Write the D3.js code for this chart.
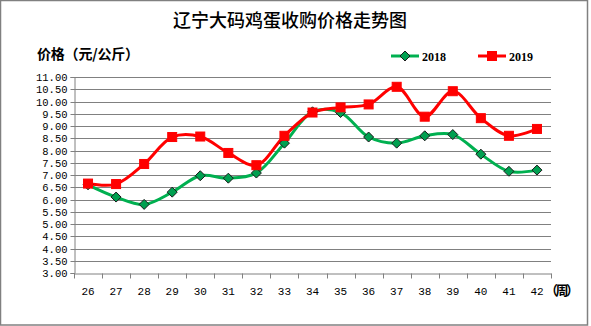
<!DOCTYPE html>
<html><head><meta charset="utf-8">
<script src="https://cdn.jsdelivr.net/npm/d3@7"></script>
<style>body{margin:0;background:#fff}svg{display:block}</style>
</head><body><svg id="c" width="591" height="326"></svg>
<script>
const weeks = ["26","27","28","29","30","31","32","33","34","35","36","37","38","39","40","41","42"];
const s2018 = [6.6,6.1,5.8,6.3,6.97,6.87,7.08,8.3,9.58,9.55,8.55,8.3,8.6,8.65,7.85,7.15,7.2];
const s2019 = [6.65,6.63,7.45,8.55,8.57,7.9,7.4,8.6,9.55,9.76,9.88,10.6,9.38,10.42,9.32,8.6,8.88];
const yTicks = [3,3.5,4,4.5,5,5.5,6,6.5,7,7.5,8,8.5,9,9.5,10,10.5,11];
const title = "辽宁大码鸡蛋收购价格走势图";
const yTitle = "价格（元/公斤）";
const xTitle = "（周）";
const seriesNames = ["2018","2019"];

const svg = d3.select("#c");
const L=74,R=551,T=77,B=273;
const x = d3.scaleBand().domain(weeks).range([L,R]);
const y = d3.scaleLinear().domain([3,11]).range([B,T]);
const grey="#808080";

svg.append("rect").attr("x",0.5).attr("y",0.5).attr("width",587).attr("height",324.5)
  .attr("fill","#fff").attr("stroke",grey).attr("stroke-width",1.5);

svg.append("text").attr("x",290).attr("y",27).attr("text-anchor","middle")
  .attr("font-family","Noto Sans CJK SC").attr("font-weight",500).attr("font-size",18).text(title);
svg.append("text").attr("x",37).attr("y",59).attr("textLength",102).attr("lengthAdjust","spacing")
  .attr("font-family","Noto Sans CJK SC").attr("font-weight",700).attr("font-size",14).text(yTitle);
svg.append("text").attr("x",545).attr("y",295).attr("textLength",34).attr("lengthAdjust","spacing")
  .attr("font-family","Noto Sans CJK SC").attr("font-weight",700).attr("font-size",13).text(xTitle);

// grid
svg.append("g").selectAll("line").data(yTicks.filter(d=>d>3)).join("line")
  .attr("x1",L).attr("x2",R).attr("y1",d=>Math.round(y(d))+0.5).attr("y2",d=>Math.round(y(d))+0.5)
  .attr("stroke",grey).attr("stroke-width",1);

// y axis
const ya = svg.append("g").attr("transform",`translate(${L+0.5},0)`)
  .call(d3.axisLeft(y).tickValues(yTicks).tickFormat(d3.format(".2f")).tickSize(4).tickPadding(3));
ya.select(".domain").attr("stroke",grey);
ya.selectAll(".tick line").attr("stroke",grey);
ya.selectAll(".tick text").attr("font-family","Liberation Mono").attr("font-size",10.5).attr("fill","#000");
ya.selectAll(".tick").attr("transform",d=>`translate(0,${Math.round(y(d))+0.5})`);

// x axis
const xa = svg.append("g").attr("transform",`translate(0,${B+0.5})`)
  .call(d3.axisBottom(x).tickSize(0).tickPadding(14));
xa.select(".domain").attr("stroke",grey);
xa.selectAll(".tick text").attr("font-family","Liberation Mono").attr("font-size",11).attr("fill","#000");
xa.selectAll("line.b").data(d3.range(weeks.length+1)).join("line").attr("class","b")
  .attr("x1",i=>Math.round(L+i*x.step())+0.5).attr("x2",i=>Math.round(L+i*x.step())+0.5)
  .attr("y1",0).attr("y2",5).attr("stroke",grey);

const cx = w => x(w)+x.bandwidth()/2;
const line = d3.line().curve(d3.curveCatmullRom.alpha(0.5));
const green="#00b050", red="#ff0000";

function drawSeries(vals,color){
  svg.append("path").attr("d",line(vals.map((v,i)=>[cx(weeks[i]),y(v)])))
    .attr("fill","none").attr("stroke",color).attr("stroke-width",3);
}
drawSeries(s2018,green);
drawSeries(s2019,red);

function diamond(g,px,py){
  g.append("path").attr("d",`M${px},${py-5}L${px+5},${py}L${px},${py+5}L${px-5},${py}Z`)
   .attr("fill","#00a050").attr("stroke","#1a1a1a").attr("stroke-width",1);
}
function square(g,px,py){
  g.append("rect").attr("x",px-4.5).attr("y",py-4.5).attr("width",9).attr("height",9)
   .attr("fill",red).attr("stroke",red).attr("stroke-width",1);
}
const mk = svg.append("g");
s2018.forEach((v,i)=>diamond(mk,cx(weeks[i]),y(v)));
s2019.forEach((v,i)=>square(mk,cx(weeks[i]),y(v)));

// legend
const lg = svg.append("g");
lg.append("line").attr("x1",391).attr("x2",419).attr("y1",56).attr("y2",56).attr("stroke",green).attr("stroke-width",3);
diamond(lg,405,56);
lg.append("text").attr("x",422).attr("y",60.5).attr("font-family","Liberation Serif").attr("font-weight","bold").attr("font-size",12).text(seriesNames[0]);
lg.append("line").attr("x1",478).attr("x2",506).attr("y1",56).attr("y2",56).attr("stroke",red).attr("stroke-width",3);
square(lg,492,56);
lg.append("text").attr("x",509).attr("y",60.5).attr("font-family","Liberation Serif").attr("font-weight","bold").attr("font-size",12).text(seriesNames[1]);
</script></body></html>
